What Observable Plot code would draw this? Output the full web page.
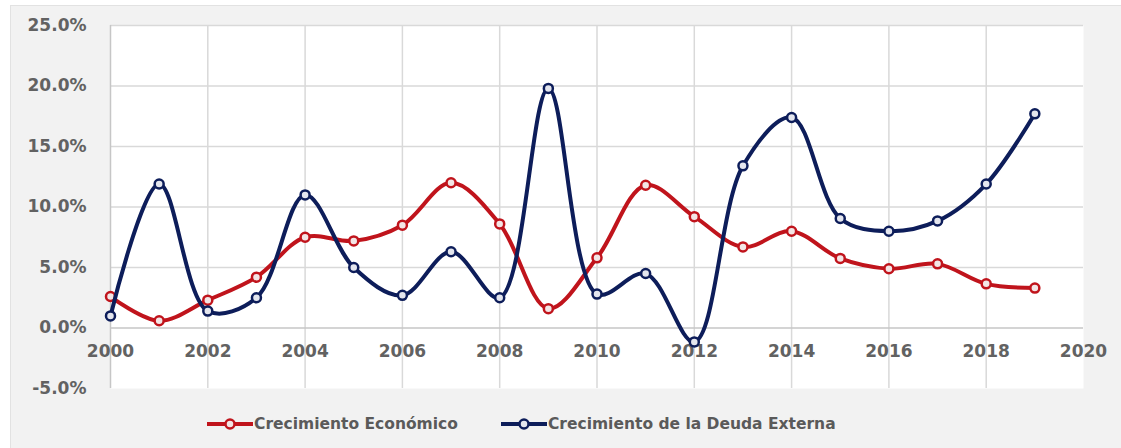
<!DOCTYPE html>
<html>
<head>
<meta charset="utf-8">
<script src="https://cdn.jsdelivr.net/npm/d3@7"></script>
<script src="https://cdn.jsdelivr.net/npm/@observablehq/plot@0.6"></script>
<style>
  html, body { margin: 0; padding: 0; background: #ffffff; width: 1121px; height: 448px; overflow: hidden; }
  #bg { position: absolute; left: 10px; top: 5px; width: 1111px; height: 443px; background: #f2f2f2;
        border-left: 1px solid #e2e2e2; border-top: 1px solid #e2e2e2; box-sizing: border-box; }
  #chart { position: absolute; left: 0; top: 0; width: 1121px; }
  #legend { height: 48px; display: flex; align-items: center; padding-left: 206px;
            font-family: "DejaVu Sans", sans-serif; font-weight: bold; font-size: 15.5px; color: #5a5a5a; }
  .item { display: flex; align-items: center; }
  .item svg { display: block; }
</style>
</head>
<body>
<div id="bg"></div>
<div id="chart"></div>
<script>
const years = [2000,2001,2002,2003,2004,2005,2006,2007,2008,2009,2010,2011,2012,2013,2014,2015,2016,2017,2018,2019];
const econ  = [2.6,0.6,2.3,4.2,7.5,7.2,8.5,12.0,8.6,1.6,5.8,11.8,9.2,6.7,8.0,5.75,4.9,5.3,3.65,3.3];
const debt  = [1.0,11.9,1.4,2.5,11.0,5.0,2.7,6.3,2.5,19.8,2.8,4.5,-1.15,13.4,17.4,9.05,8.0,8.85,11.9,17.7];
const seriesNames = ["Crecimiento Económico", "Crecimiento de la Deuda Externa"];
const seriesColors = ["#c0141c", "#0d1d5a"];
const yTicks = [-5,0,5,10,15,20,25];
const xTicks = [2000,2002,2004,2006,2008,2010,2012,2014,2016,2018,2020];

const econData = years.map((y, i) => ({year: y, value: econ[i]}));
const debtData = years.map((y, i) => ({year: y, value: debt[i]}));

const plot = Plot.plot({
  width: 1121,
  height: 400,
  marginLeft: 110,
  marginRight: 38,
  marginTop: 25,
  marginBottom: 12,
  style: {background: "transparent", color: "#626262", fontFamily: "DejaVu Sans, sans-serif", fontWeight: "bold", overflow: "visible"},
  x: {domain: [2000, 2020], axis: null},
  y: {domain: [-5, 25], axis: null},
  marks: [
    Plot.frame({fill: "white", stroke: "none"}),
    Plot.ruleY([5,10,15,20,25], {stroke: "#d9d9d9", strokeWidth: 1.5}),
    Plot.ruleX(xTicks.filter(d => d > 2000 && d < 2020), {stroke: "#d9d9d9", strokeWidth: 1.5}),
    Plot.ruleY([0], {stroke: "#c6c6c6", strokeWidth: 1.5}),
    Plot.ruleX([2000], {stroke: "#c6c6c6", strokeWidth: 1.5}),
    Plot.axisY({ticks: yTicks, label: null, tickSize: 0, tickPadding: 24, tickFormat: d => d.toFixed(1) + "%", fontSize: 17, fontWeight: "bold"}),
    Plot.text(xTicks, {x: d => d, y: () => 0, dy: 24, text: d => String(d), fontSize: 17, fontWeight: "bold", fill: "#626262"}),
    Plot.line(econData, {x: "year", y: "value", stroke: seriesColors[0], strokeWidth: 4, curve: "catmull-rom"}),
    Plot.dot(econData, {x: "year", y: "value", r: 4.5, stroke: seriesColors[0], strokeWidth: 2.5, fill: "#f3e6e6"}),
    Plot.line(debtData, {x: "year", y: "value", stroke: seriesColors[1], strokeWidth: 4, curve: "catmull-rom"}),
    Plot.dot(debtData, {x: "year", y: "value", r: 4.5, stroke: seriesColors[1], strokeWidth: 2.5, fill: "#e4e6ee"})
  ]
});

const chart = document.getElementById("chart");
chart.appendChild(plot);

const legend = document.createElement("div");
legend.id = "legend";
seriesNames.forEach((name, i) => {
  const item = document.createElement("div");
  item.className = "item";
  if (i > 0) item.style.marginLeft = "42px";
  item.innerHTML = `<svg width="48" height="14"><line x1="1" y1="7" x2="47" y2="7" stroke="${seriesColors[i]}" stroke-width="4"/><circle cx="24" cy="7" r="4.5" stroke="${seriesColors[i]}" stroke-width="2.5" fill="${i ? '#e4e6ee' : '#f3e6e6'}"/></svg><span>${name}</span>`;
  legend.appendChild(item);
});
chart.appendChild(legend);
</script>
</body>
</html>
